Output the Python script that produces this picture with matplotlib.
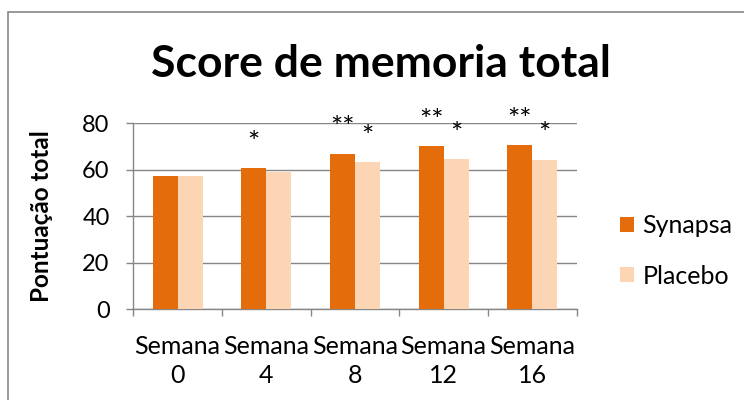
import numpy as np
import matplotlib.pyplot as plt
from matplotlib.patches import Rectangle

plt.rcParams["font.family"] = ["Lato", "DejaVu Sans"]

# Data
weeks = ["Semana\n0", "Semana\n4", "Semana\n8", "Semana\n12", "Semana\n16"]
synapsa = [57.3, 60.8, 66.9, 70.2, 70.7]
placebo = [57.3, 59.2, 63.3, 64.5, 64.3]
sig_synapsa = ["", "*", "**", "**", "**"]
sig_placebo = ["", "", "*", "*", "*"]

c_syn = "#E46C0A"
c_pla = "#FCD5B5"
gray = "#868686"

fig = plt.figure(figsize=(7.44, 4.0), dpi=100)
ax = fig.add_axes([133.3 / 744, 91 / 400, 443.3 / 744, 185.7 / 400])

x = np.arange(len(weeks))
w = 0.282
ax.bar(x - w / 2, synapsa, w, color=c_syn, label="Synapsa", zorder=3)
ax.bar(x + w / 2, placebo, w, color=c_pla, label="Placebo", zorder=3)

# significance marks above the bars
for xi, v, s in zip(x, synapsa, sig_synapsa):
    if s:
        ax.text(xi - w / 2, v + 7, s, ha="center", va="baseline", fontsize=21)
for xi, v, s in zip(x, placebo, sig_placebo):
    if s:
        ax.text(xi + w / 2, v + 7, s, ha="center", va="baseline", fontsize=21)

ax.set_xlim(-0.5, len(weeks) - 0.5)
ax.set_ylim(0, 80)
ax.set_yticks(np.arange(0, 81, 20))
ax.set_xticks(x)
ax.set_xticklabels(weeks, fontsize=18, linespacing=1.3)
ax.set_xticks(np.arange(-0.5, len(weeks)), minor=True)
ax.tick_params(axis="x", which="major", length=0, pad=19)
ax.tick_params(axis="x", which="minor", length=5, width=1, color=gray)
ax.tick_params(axis="y", length=5, width=1, color=gray, pad=12, labelsize=17)

ax.grid(axis="y", color=gray, linewidth=1.0, zorder=0)
for side in ["top", "right"]:
    ax.spines[side].set_visible(False)
for side in ["left", "bottom"]:
    ax.spines[side].set_color(gray)
    ax.spines[side].set_linewidth(1.0)

ax.set_ylabel("Pontuação total", fontsize=17.5, fontweight="bold")
ax.yaxis.set_label_coords(-80 / 443.3, 0.5)

fig.text(381 / 744, 1 - 77 / 400, "Score de memoria total", ha="center",
         va="baseline", fontsize=32, fontweight="bold")

fig.legend(loc="center left", bbox_to_anchor=(620 / 744, 1 - 251 / 400),
           frameon=False, fontsize=18, handlelength=0.55, handleheight=0.55,
           handletextpad=0.35, labelspacing=1.08, borderpad=0, borderaxespad=0)

# chart-area border (only left and top are visible in the crop)
fig.patches.append(Rectangle((8 / 744, -0.1), 1.0, 0.1 + (400 - 11.5) / 400,
                             transform=fig.transFigure, fill=False,
                             edgecolor=gray, linewidth=1.2))

fig.savefig("out.png", dpi=100)
